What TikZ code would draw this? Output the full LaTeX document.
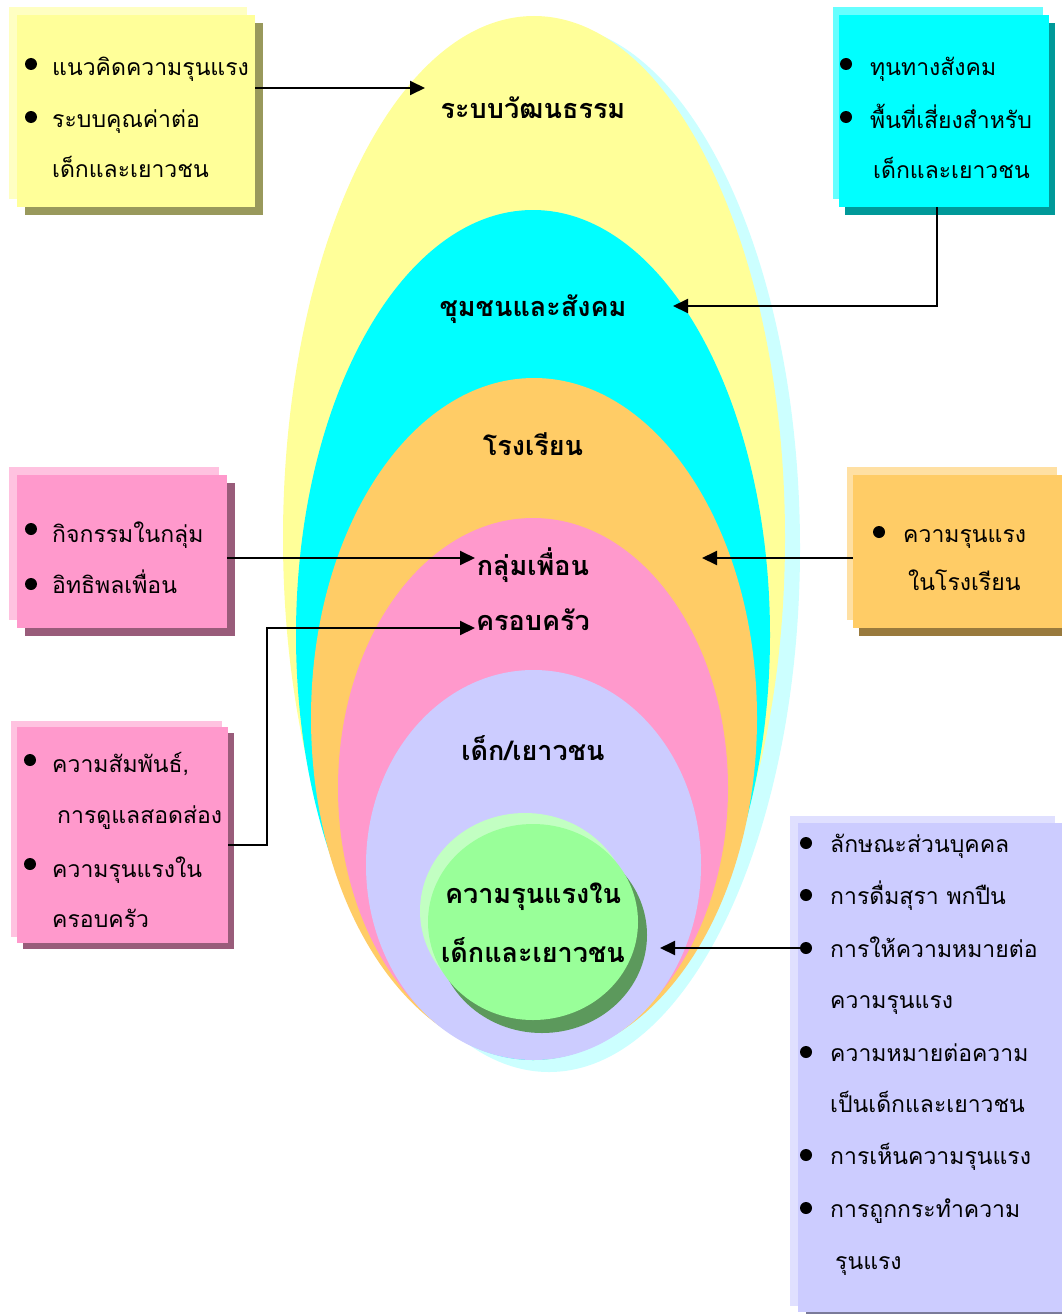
\documentclass[tikz,border=0pt]{standalone}
\usepackage{fontspec}
\newfontfamily\thai[Script=Thai]{Loma}
\usetikzlibrary{arrows.meta}
\definecolor{cYel}{HTML}{FFFF99}
\definecolor{cYelL}{HTML}{FFFFC2}
\definecolor{cYelD}{HTML}{99995C}
\definecolor{cCy}{HTML}{00FFFF}
\definecolor{cCyL}{HTML}{66FFFF}
\definecolor{cCyD}{HTML}{009999}
\definecolor{cCyS}{HTML}{CCFFFF}
\definecolor{cOr}{HTML}{FFCC66}
\definecolor{cOrL}{HTML}{FFE0A3}
\definecolor{cOrD}{HTML}{997A3D}
\definecolor{cPk}{HTML}{FF99CC}
\definecolor{cPkL}{HTML}{FFC2E0}
\definecolor{cPkD}{HTML}{995C7A}
\definecolor{cLv}{HTML}{CCCCFF}
\definecolor{cLvL}{HTML}{E0E0FF}
\definecolor{cLvD}{HTML}{7A7A99}
\definecolor{cGr}{HTML}{99FF99}
\definecolor{cGrL}{HTML}{C2FFC2}
\definecolor{cGrD}{HTML}{5C995C}
\tikzset{
  hd/.style={font=\thai\bfseries\fontsize{27}{30}\selectfont, anchor=base, inner sep=0pt},
  bt/.style={font=\thai\fontsize{23}{27}\selectfont, anchor=base west, inner sep=0pt},
  bul/.style={circle, fill=black, minimum size=12pt, inner sep=0pt},
  arr/.style={line width=2pt, -{Triangle[length=15pt,width=14pt]}},
  mbox/.style={inner sep=0pt, draw=none},
}
\begin{document}
\begin{tikzpicture}[x=1pt,y=-1pt]
\useasboundingbox (0,0) rectangle (1061,1314);
\fill[white] (0,0) rectangle (1061,1314);
% nested ellipses
\fill[cCyS] (549,548) ellipse [x radius=251, y radius=524];
\fill[cYel] (534,538) ellipse [x radius=251, y radius=522];
\fill[cCy]  (533,635) ellipse [x radius=237, y radius=425];
\fill[cOr]  (534,718) ellipse [x radius=223, y radius=340];
\fill[cPk]  (533,788) ellipse [x radius=195, y radius=270];
\fill[cLv]  (533.5,865) ellipse [x radius=167.5, y radius=195];
\fill[cGrD] (542,935) ellipse [x radius=105, y radius=98];
\fill[cGrL] (525,911) ellipse [x radius=105, y radius=98];
\fill[cGr]  (533,922) ellipse [x radius=105, y radius=98];
% headings
\node[hd] (h1) at (533,118) {ระบบวัฒนธรรม};
\node[hd] (h2) at (533,316) {ชุมชนและสังคม};
\node[hd] (h3) at (533,455) {โรงเรียน};
\node[hd] (h4) at (533,575) {กลุ่มเพื่อน};
\node[hd] (h5) at (533,630) {ครอบครัว};
\node[hd] (h6) at (533,760) {เด็ก/เยาวชน};
\node[hd] (h7) at (533,903) {ความรุนแรงใน};
\node[hd] (h8) at (533,962) {เด็กและเยาวชน};
% box top-left
\fill[cYelD] (25,23) rectangle (263,215);
\fill[cYelL] (9,7) rectangle (247,199);
\node[mbox, fill=cYel, minimum width=238pt, minimum height=192pt] (bTL) at (136,111) {};
\node[bul] (tlb1) at (31,64) {};
\node[bt] (tl1) at (52,75) {แนวคิดความรุนแรง};
\node[bul] (tlb2) at (31,117) {};
\node[bt] (tl2) at (52,127) {ระบบคุณค่าต่อ};
\node[bt] (tl3) at (52,177) {เด็กและเยาวชน};
% box top-right
\fill[cCyD] (845,23) rectangle (1055,215);
\fill[cCyL] (833,7) rectangle (1043,199);
\node[mbox, fill=cCy, minimum width=210pt, minimum height=192pt] (bTR) at (944,111) {};
\node[bul] (trb1) at (846,64) {};
\node[bt] (tr1) at (870,75) {ทุนทางสังคม};
\node[bul] (trb2) at (846,117) {};
\node[bt] (tr2) at (870,128) {พื้นที่เสี่ยงสำหรับ};
\node[bt] (tr3) at (873,178) {เด็กและเยาวชน};
% box pink 1
\fill[cPkD] (25,483) rectangle (235,636);
\fill[cPkL] (9,467) rectangle (219,620);
\node[mbox, fill=cPk, minimum width=210pt, minimum height=153pt] (bP1) at (122,551.5) {};
\node[bul] (p1b1) at (31,529) {};
\node[bt] (p11) at (52,542) {กิจกรรมในกลุ่ม};
\node[bul] (p1b2) at (31,584) {};
\node[bt] (p12) at (52,593) {อิทธิพลเพื่อน};
% box orange
\fill[cOrD] (859,483) rectangle (1069,636);
\fill[cOrL] (847,467) rectangle (1057,620);
\node[mbox, fill=cOr, minimum width=210pt, minimum height=153pt] (bOr) at (958,551.5) {};
\node[bul] (orb1) at (879,532) {};
\node[bt] (or1) at (903,542) {ความรุนแรง};
\node[bt] (or2) at (908,590) {ในโรงเรียน};
% box pink 2
\fill[cPkD] (23,733) rectangle (234,949);
\fill[cPkL] (11,721) rectangle (222,937);
\node[mbox, fill=cPk, minimum width=211pt, minimum height=216pt] (bP2) at (122.5,835) {};
\node[bul] (p2b1) at (30,760) {};
\node[bt] (p21) at (52,772) {ความสัมพันธ์,};
\node[bt] (p22) at (57,823) {การดูแลสอดส่อง};
\node[bul] (p2b2) at (30,864) {};
\node[bt] (p23) at (52,877) {ความรุนแรงใน};
\node[bt] (p24) at (52,927) {ครอบครัว};
% box lavender
\fill[cLvD] (806,830) rectangle (1071,1320);
\fill[cLvL] (790,816) rectangle (1055,1306);
\node[mbox, fill=cLv, minimum width=265pt, minimum height=489pt] (bLv) at (930.5,1067.5) {};
\node[bul] (lvb1) at (806,843) {};
\node[bt] (lv1) at (830,852) {ลักษณะส่วนบุคคล};
\node[bul] (lvb2) at (806,895) {};
\node[bt] (lv2) at (830,904) {การดื่มสุรา พกปืน};
\node[bul] (lvb3) at (806,948) {};
\node[bt] (lv3) at (830,957) {การให้ความหมายต่อ};
\node[bt] (lv4) at (830,1008) {ความรุนแรง};
\node[bul] (lvb5) at (806,1052) {};
\node[bt] (lv5) at (830,1061) {ความหมายต่อความ};
\node[bt] (lv6) at (830,1112) {เป็นเด็กและเยาวชน};
\node[bul] (lvb7) at (806,1155) {};
\node[bt] (lv7) at (830,1164) {การเห็นความรุนแรง};
\node[bul] (lvb8) at (806,1208) {};
\node[bt] (lv8) at (830,1217) {การถูกกระทำความ};
\node[bt] (lv9) at (835,1269) {รุนแรง};
% connectors
\coordinate (tipA) at (425,88);
\coordinate (tipB) at (673,306);
\coordinate (tipC) at (475,558);
\coordinate (tipD) at (702,558);
\coordinate (tipE) at (475,628);
\coordinate (elbow) at (267,845);
\coordinate (tipF) at (660,948);
\draw[arr] (bTL.east |- tipA) -- (tipA);
\draw[arr] ([xshift=-7pt]bTR.south) |- (tipB);
\draw[arr] (bP1.east |- tipC) -- (tipC);
\draw[arr] (bOr.west |- tipD) -- (tipD);
\draw[arr] (bP2.east |- elbow) -- (elbow) |- (tipE);
\draw[arr] (lvb3) -- (tipF);
\end{tikzpicture}
\end{document}
